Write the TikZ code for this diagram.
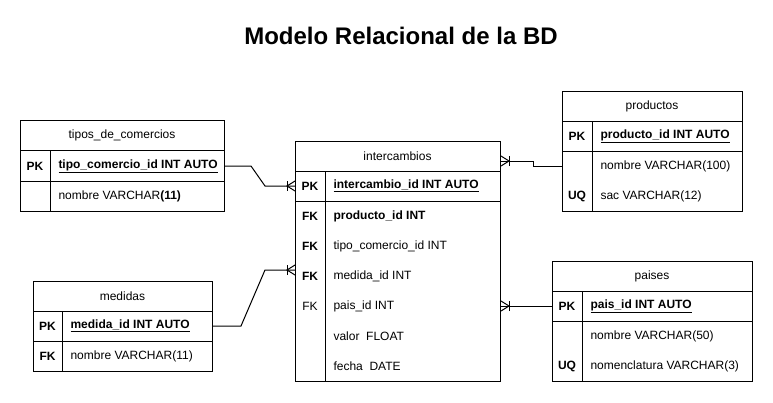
\documentclass[tikz,border=0pt]{standalone}
\usepackage{fontspec}
\setmainfont{Liberation Sans}
\usetikzlibrary{calc}
\begin{document}
\begin{tikzpicture}[x=1pt,y=-1pt, line width=1pt,
 frame/.style={draw, rectangle, inner sep=0pt, anchor=north west},
 hdr/.style={font=\fontsize{12}{14}\selectfont, inner sep=0pt},
 key/.style={font=\fontsize{12}{14}\selectfont\bfseries, inner sep=0pt},
 keyn/.style={font=\fontsize{12}{14}\selectfont, inner sep=0pt},
 fld/.style={font=\fontsize{12}{14}\selectfont, anchor=west, inner sep=0pt},
 fldb/.style={font=\fontsize{12}{14}\selectfont\bfseries, anchor=west, inner sep=0pt},
 conn/.style={draw, line width=1pt},
 crow/.pic={\draw (-8,-5) -- (-8,5); \draw (0,-5) -- (-8,0) -- (0,5);}
]
\useasboundingbox (0,0) rectangle (773,402);

\node[font=\fontsize{24}{28}\selectfont\bfseries] (title) at (401,36) {Modelo Relacional de la BD};

% tipos_de_comercios
\node[frame, minimum width=204pt, minimum height=91pt] (tc) at (20,120) {};
\draw (20,150) -- (224,150) (20,181) -- (224,181) (50,150) -- (50,211);
\node[hdr] (tch) at (122,135) {tipos\_de\_comercios};
\node[key] (tck) at (35,166) {PK};
\node[fldb] (tcpk) at (58,166) {\underline{tipo\_comercio\_id INT AUTO}};
\node[fld] (tcn) at (58,196) {nombre VARCHAR\textbf{(11)}};

% intercambios
\node[frame, minimum width=205pt, minimum height=240pt] (ic) at (295,141) {};
\draw (295,171) -- (500,171) (295,201) -- (500,201) (325,171) -- (325,381);
\node[hdr] (ich) at (397.5,156) {intercambios};
\node[key] (ick1) at (310,186) {PK};
\node[fldb] (icpk) at (333,186) {\underline{intercambio\_id INT AUTO}};
\node[key] (ick2) at (310,216) {FK};
\node[fldb] (icprod) at (333,216) {producto\_id INT};
\node[key] (ick3) at (310,246) {FK};
\node[fld] (ictipo) at (333,246) {tipo\_comercio\_id INT};
\node[key] (ick4) at (310,276) {FK};
\node[fld] (icmed) at (333,276) {medida\_id INT};
\node[keyn] (ick5) at (310,306) {FK};
\node[fld] (icpais) at (333,306) {pais\_id INT};
\node[fld] (icval) at (333,336) {valor\ \ FLOAT};
\node[fld] (icfec) at (333,366) {fecha\ \ DATE};

% productos
\node[frame, minimum width=180pt, minimum height=120pt] (pr) at (562,91) {};
\draw (562,121) -- (742,121) (562,151) -- (742,151) (592,121) -- (592,211);
\node[hdr] (prh) at (652,106) {productos};
\node[key] (prk1) at (577,136) {PK};
\node[fldb] (prpk) at (600,136) {\underline{producto\_id INT AUTO}};
\node[fld] (prn) at (600,166) {nombre VARCHAR(100)};
\node[key] (prk2) at (577,196) {UQ};
\node[fld] (prs) at (600,196) {sac VARCHAR(12)};

% medidas
\node[frame, minimum width=179pt, minimum height=90pt] (md) at (33,281) {};
\draw (33,311) -- (212,311) (33,341) -- (212,341) (62,311) -- (62,371);
\node[hdr] (mdh) at (122.5,296) {medidas};
\node[key] (mdk1) at (47.5,326) {PK};
\node[fldb] (mdpk) at (70,326) {\underline{medida\_id INT AUTO}};
\node[key] (mdk2) at (47.5,356) {FK};
\node[fld] (mdn) at (70,356) {nombre VARCHAR(11)};

% paises
\node[frame, minimum width=200pt, minimum height=120pt] (ps) at (552,261) {};
\draw (552,291) -- (752,291) (552,321) -- (752,321) (582,291) -- (582,381);
\node[hdr] (psh) at (652,276) {paises};
\node[key] (psk1) at (567,306) {PK};
\node[fldb] (pspk) at (590,306) {\underline{pais\_id INT AUTO}};
\node[fld] (psn) at (590,336) {nombre VARCHAR(50)};
\node[key] (psk2) at (567,366) {UQ};
\node[fld] (psu) at (590,366) {nomenclatura VARCHAR(3)};

% connection points
\coordinate (tcE) at (tc.east |- tcpk);
\coordinate (icW1) at (ic.west |- icpk);
\coordinate (mdE) at (md.east |- mdpk);
\coordinate (icW2) at ($(ic.west |- icmed)+(0,-6)$);
\coordinate (icE1) at ($(ic.east |- ich)+(0,5)$);
\coordinate (prW) at (pr.west |- prn);
\coordinate (psW) at (ps.west |- pspk);
\coordinate (icE2) at (ic.east |- pspk);

\draw[conn] (tcE) -- (251,166) -- (265,186) -- (icW1);
\pic at (icW1) {crow};
\draw[conn] (mdE) -- (241,326) -- (265,270) -- (icW2);
\pic at (icW2) {crow};
\draw[conn] (icE1) -- (533,161) -- (533,166) -- (prW);
\pic[rotate=180] at (icE1) {crow};
\draw[conn] (psW) -- (icE2);
\pic[rotate=180] at (icE2) {crow};
\end{tikzpicture}
\end{document}
